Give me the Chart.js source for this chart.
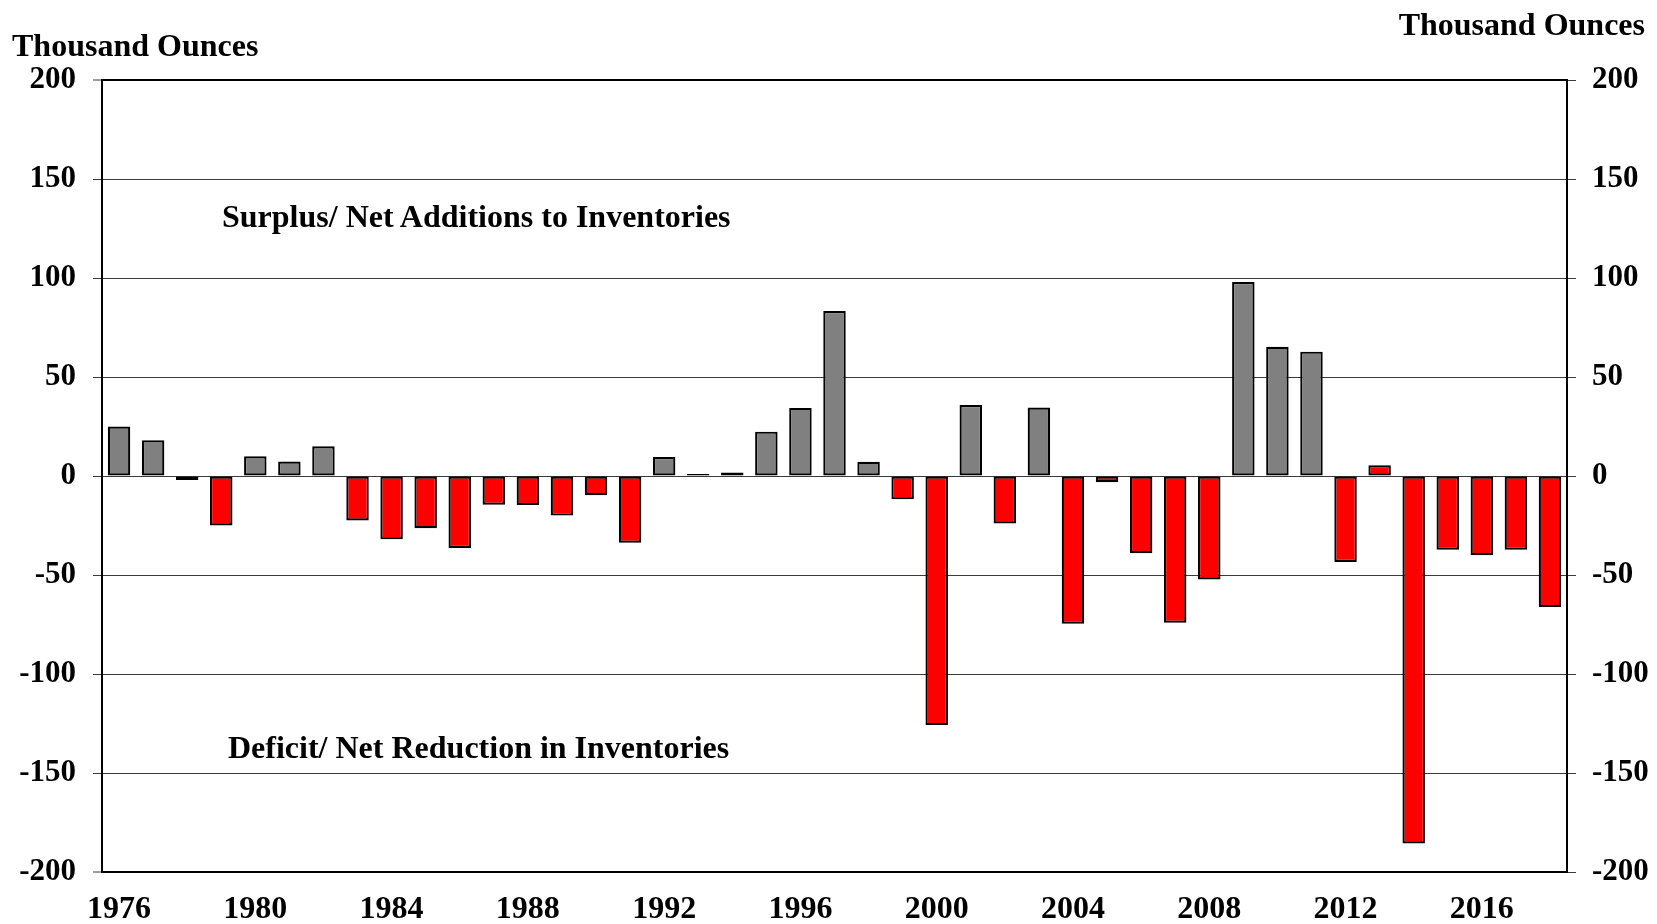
<!DOCTYPE html>
<html>
<head>
<meta charset="utf-8">
<script src="https://cdn.jsdelivr.net/npm/chart.js@4"></script>
<style>
  html, body { margin: 0; padding: 0; background: #fff; }
  #wrap { position: relative; width: 1657px; height: 924px; }
  canvas { position: absolute; left: 0; top: 0; }
  .lbl { position: absolute; font-family: "Liberation Serif", "Times New Roman", serif; font-weight: bold; color: #000; white-space: nowrap; line-height: 1; }
</style>
</head>
<body>
<div id="wrap">
  <canvas id="c" width="1657" height="924"></canvas>
  <div class="lbl" style="left:12px; top:29px; font-size:32px;">Thousand Ounces</div>
  <div class="lbl" style="right:12px; top:8px; font-size:32px;">Thousand Ounces</div>
  <div class="lbl" style="left:222px; top:200px; font-size:32px;">Surplus/ Net Additions to Inventories</div>
  <div class="lbl" style="left:228px; top:731px; font-size:32px;">Deficit/ Net Reduction in Inventories</div>
</div>
<script>
// Categories (years)
const years = ['1976','1977','1978','1979','1980','1981','1982','1983','1984','1985',
               '1986','1987','1988','1989','1990','1991','1992','1993','1994','1995',
               '1996','1997','1998','1999','2000','2001','2002','2003','2004','2005',
               '2006','2007','2008','2009','2010','2011','2012','2013','2014','2015',
               '2016','2017','2018'];
// Surplus / deficit, thousand ounces
const balance = [25, 18, -2, -25, 10, 7.3, 15, -22.5, -32, -26.4,
                 -36.4, -14.5, -14.7, -20, -9.7, -33.7, 9.6, 1.0, 1.8, 22.4,
                 34.4, 83.3, 7.2, -11.8, -125.8, 35.8, -24, 34.6, -74.6, -3.1,
                 -39, -74.1, -52.3, 98, 65.3, 62.8, -43.4, 5.4, -185.6, -37.2,
                 -40, -37.3, -66.2];
// Y-axis tick values
const yTicks = [-200, -150, -100, -50, 0, 50, 100, 150, 200];
// Years whose bar is drawn in the deficit colour even though positive
const redYears = ['2013'];

const GREY = '#808080', RED = '#ff0000';
const yFont = { family: '"Liberation Serif", "Times New Roman", serif', size: 31, weight: 'bold' };
const xFont = { family: '"Liberation Serif", "Times New Roman", serif', size: 32, weight: 'bold' };

new Chart(document.getElementById('c'), {
  type: 'bar',
  data: {
    labels: years,
    datasets: [{
      data: balance,
      yAxisID: 'y',
      backgroundColor: ctx => {
        const v = ctx.raw, yr = years[ctx.dataIndex];
        return (v < 0 || redYears.includes(yr)) ? RED : GREY;
      },
      borderColor: '#000',
      borderWidth: 2.2,
      borderSkipped: false,
      categoryPercentage: 1,
      barPercentage: 0.66
    }]
  },
  options: {
    responsive: false,
    devicePixelRatio: 1,
    animation: false,
    layout: { padding: { top: 80, left: 0, right: 0, bottom: 0 } },
    plugins: { legend: { display: false }, tooltip: { enabled: false } },
    scales: {
      x: {
        type: 'category',
        grid: { display: false, drawTicks: false },
        border: { display: true, color: '#000', width: 2 },
        ticks: {
          autoSkip: false, maxRotation: 0, minRotation: 0, padding: 19,
          color: '#000', font: xFont,
          callback: function(val, i) { const y = parseInt(years[i]); return ((y - 1976) % 4 === 0) ? years[i] : ''; }
        },
        afterFit: s => { s.height = 52; }
      },
      y: {
        position: 'left',
        min: -200, max: 200,
        afterBuildTicks: s => { s.ticks = yTicks.map(v => ({ value: v })); },
        grid: {
          color: ctx => (ctx.tick && (ctx.tick.value === 200)) ? '#000' : '#3a3a3a',
          lineWidth: ctx => (ctx.tick && (ctx.tick.value === 200 || ctx.tick.value === -200)) ? 2 : 1,
          tickLength: 9,
          tickColor: '#3a3a3a',
          tickWidth: 1
        },
        border: { display: true, color: '#000', width: 2 },
        ticks: { color: '#000', font: yFont, padding: 17 },
        afterFit: s => { s.width = 102; }
      },
      y2: {
        position: 'right',
        min: -200, max: 200,
        afterBuildTicks: s => { s.ticks = yTicks.map(v => ({ value: v })); },
        grid: { drawOnChartArea: false, tickLength: 9, tickColor: '#3a3a3a', tickWidth: 1 },
        border: { display: true, color: '#000', width: 2 },
        ticks: { color: '#000', font: yFont, padding: 16 },
        afterFit: s => { s.width = 90; }
      }
    }
  }
});
</script>
</body>
</html>
